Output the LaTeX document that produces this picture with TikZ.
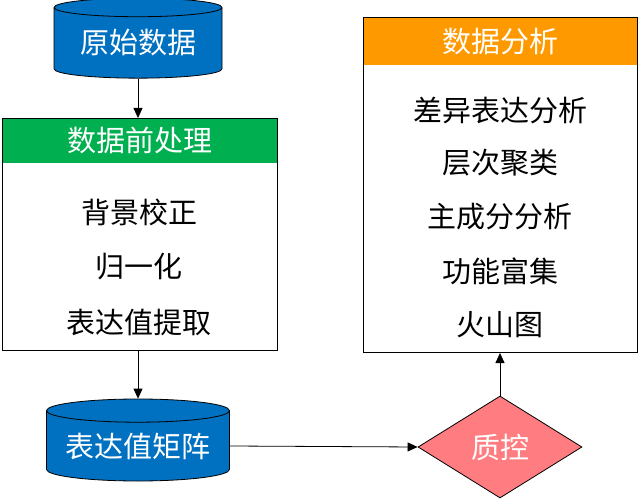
\documentclass[tikz,border=0pt]{standalone}
\usepackage{fontspec}
\setmainfont{Noto Sans CJK SC}
\usetikzlibrary{shapes.geometric,arrows.meta}
\definecolor{cylblue}{RGB}{0,112,192}
\definecolor{hdgreen}{RGB}{0,176,80}
\definecolor{hdorange}{RGB}{255,153,0}
\definecolor{qcpink}{RGB}{255,124,128}
\tikzset{
  db/.style={cylinder, shape border rotate=90, aspect=0.16, draw=black, line width=0.8pt,
    fill=cylblue, text=white, inner sep=0pt, font=\fontsize{29}{32}\selectfont},
  hdr/.style={anchor=north west, inner sep=0pt, text=white, font=\fontsize{29}{32}\selectfont},
  frame/.style={draw=black, line width=1pt, anchor=north west, inner sep=0pt},
  item/.style={font=\fontsize{29}{32}\selectfont, text=black, inner sep=0pt},
  arr/.style={draw=black, line width=0.8pt, -{Triangle[length=10pt,width=9pt]}},
  qc/.style={diamond, draw=black, line width=0.8pt, fill=qcpink, text=white, inner sep=0pt,
    font=\fontsize{29}{32}\selectfont}
}
\begin{document}
\begin{tikzpicture}[x=1pt,y=-1pt]
\useasboundingbox (0,0) rectangle (640,500);
% top cylinder
\node[db, minimum width=168pt, minimum height=80pt] (raw) at (138,43) {原始数据};
% preprocessing box
\node[hdr, fill=hdgreen, minimum width=275pt, minimum height=45pt] (preh) at (2,118) {数据前处理};
\node[frame, minimum width=275pt, minimum height=232pt] (pre) at (2,118) {};
\node[item] (p1) at (139,212) {背景校正};
\node[item] (p2) at (139,267) {归一化};
\node[item] (p3) at (139,322) {表达值提取};
% bottom cylinder
\node[db, minimum width=183pt, minimum height=82pt] (mat) at (138,446) {表达值矩阵};
% QC diamond
\node[qc, minimum width=164pt, minimum height=102pt] (qc) at (500,447) {质控};
% analysis box
\node[hdr, fill=hdorange, minimum width=274pt, minimum height=48pt] (anh) at (363,17) {数据分析};
\node[frame, minimum width=274pt, minimum height=335pt] (an) at (363,17) {};
\node[item] (a1) at (500,110) {差异表达分析};
\node[item] (a2) at (500,163) {层次聚类};
\node[item] (a3) at (500,217) {主成分分析};
\node[item] (a4) at (500,271) {功能富集};
\node[item] (a5) at (500,325) {火山图};
% connectors
\draw[arr] (raw.bottom) -- (pre.north -| raw.bottom);
\draw[arr] (pre.south -| mat.top) -- (mat.top);
\draw[arr] (mat.east) -- (qc.west);
\draw[arr] (qc.north) -- (an.south -| qc.north);
\end{tikzpicture}
\end{document}
